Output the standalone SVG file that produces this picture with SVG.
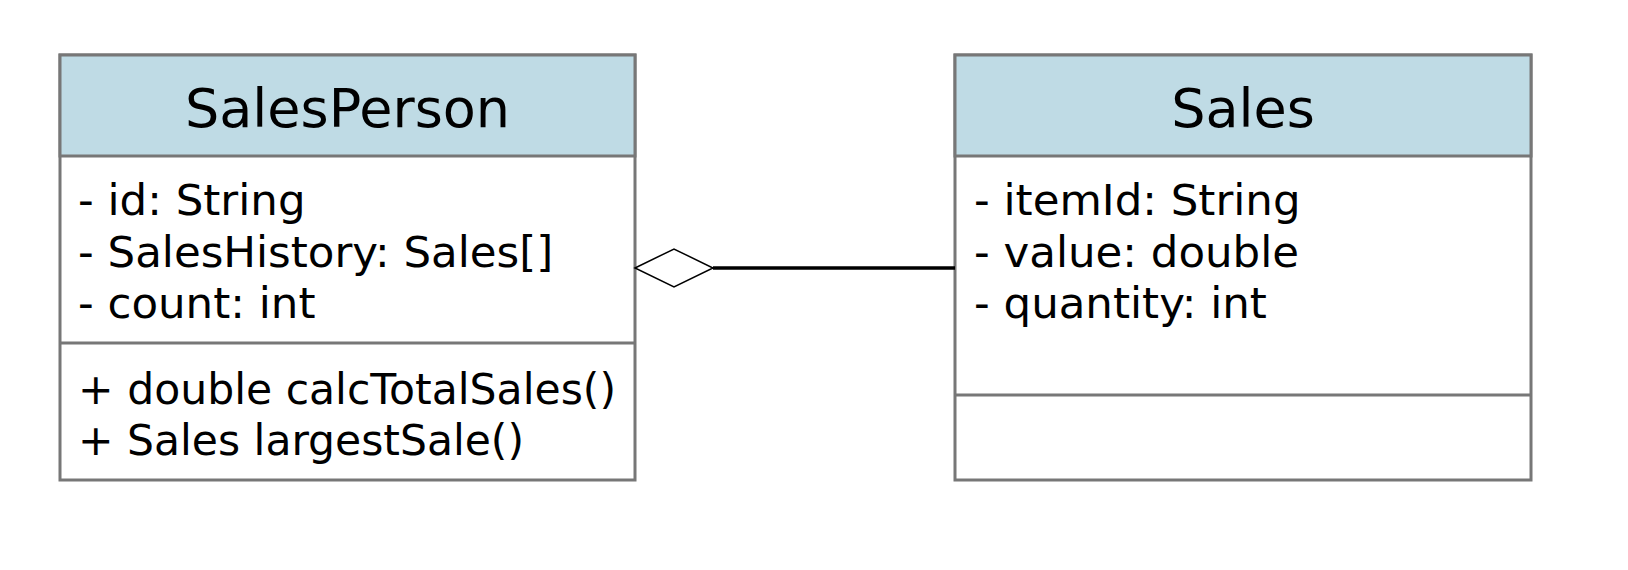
<svg xmlns="http://www.w3.org/2000/svg" width="1628" height="570" viewBox="0 0 1628 570">
<style>
.box{fill:#ffffff;stroke:#777777;stroke-width:3}
.hdr{fill:#bfdbe5;stroke:#777777;stroke-width:3}
.sep{stroke:#777777;stroke-width:3}
.title{font-family:"DejaVu Sans",Verdana,sans-serif;font-size:54px;fill:#000;text-anchor:middle}
.txt{font-family:"DejaVu Sans",Verdana,sans-serif;font-size:43.5px;fill:#000}
</style>
<rect width="1628" height="570" fill="#ffffff"/>
<g id="SalesPerson">
<rect class="box" x="60" y="55" width="575" height="425"/>
<rect class="hdr" x="60" y="55" width="575" height="101"/>
<line class="sep" x1="60" y1="343" x2="635" y2="343"/>
<text class="title" x="347.5" y="127">SalesPerson</text>
<text class="txt" x="78" y="215">- id: String</text>
<text class="txt" x="78" y="267">- SalesHistory: Sales[]</text>
<text class="txt" x="78" y="318">- count: int</text>
<text class="txt" x="78" y="404" textLength="538" lengthAdjust="spacingAndGlyphs">+ double calcTotalSales()</text>
<text class="txt" x="78" y="455" textLength="446" lengthAdjust="spacingAndGlyphs">+ Sales largestSale()</text>
</g>
<g id="Sales">
<rect class="box" x="955" y="55" width="576" height="425"/>
<rect class="hdr" x="955" y="55" width="576" height="101"/>
<line class="sep" x1="955" y1="395" x2="1531" y2="395"/>
<text class="title" x="1243" y="127">Sales</text>
<text class="txt" x="974" y="215">- itemId: String</text>
<text class="txt" x="974" y="267">- value: double</text>
<text class="txt" x="974" y="318">- quantity: int</text>
</g>
<g id="connectors">
<line x1="713" y1="268" x2="955" y2="268" stroke="#000" stroke-width="3.5"/>
<polygon points="635,268 674,249 713,268 674,287" fill="#ffffff" stroke="#000" stroke-width="1.5"/>
</g>
</svg>
